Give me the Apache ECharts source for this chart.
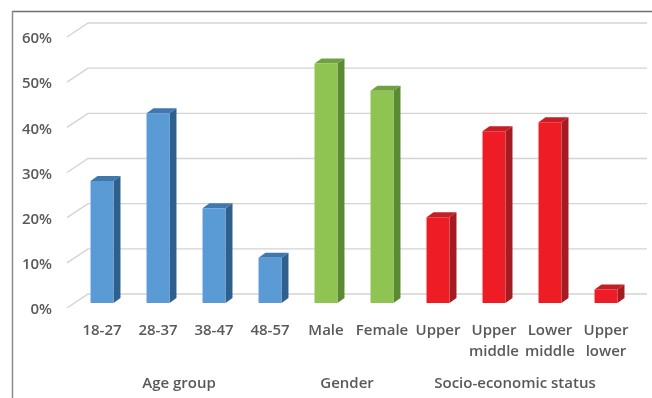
<!DOCTYPE html>
<html>
<head>
<meta charset="utf-8">
<style>
  html, body { margin: 0; padding: 0; background: #ffffff; }
  #chart { width: 652px; height: 398px; }
</style>
<script src="https://cdn.jsdelivr.net/npm/echarts@6/dist/echarts.min.js"></script>
</head>
<body>
<div id="chart"></div>
<script>
// Survey sample profile, in percent of respondents
const categories = ['18-27', '28-37', '38-47', '48-57', 'Male', 'Female',
  'Upper', 'Upper\nmiddle', 'Lower\nmiddle', 'Upper\nlower'];
const shares = [27, 42, 21, 10, 53, 47, 19, 38, 40, 3];
const groupOf = [0, 0, 0, 0, 1, 1, 2, 2, 2, 2];
const groupNames = ['Age group', 'Gender', 'Socio-economic status'];
const yTicks = [0, 10, 20, 30, 40, 50, 60];

// front / side / top shades for each group
const palettes = [
  { front: '#5b9bd5', side: '#2f5f8c', top: '#3f78ad' },
  { front: '#8fc352', side: '#5b8a35', top: '#70a03f' },
  { front: '#ee1c25', side: '#a51b21', top: '#c41f26' }
];

const TEXT = '#595959';
const FONT = '"Open Sans", "Noto Sans", sans-serif';
const DX = 7, DY = 5;        // bar depth offset
const WALL_DX = 21, WALL_DY = 14; // floor depth for gridlines

const chart = echarts.init(document.getElementById('chart'));

const option = {
  animation: false,
  backgroundColor: '#ffffff',
  grid: { left: 74, right: 18, top: 32, bottom: 95 },
  xAxis: {
    type: 'category',
    data: categories,
    axisLine: { show: false },
    axisTick: { show: false },
    axisLabel: {
      color: TEXT, fontFamily: FONT, fontSize: 15, fontWeight: 600,
      margin: 17, lineHeight: 21, interval: 0
    }
  },
  yAxis: {
    type: 'value',
    min: 0, max: 60, interval: 10,
    axisLine: { show: false },
    axisTick: { show: false },
    splitLine: { show: false },
    axisLabel: {
      formatter: '{value}%',
      color: TEXT, fontFamily: FONT, fontSize: 15, fontWeight: 600,
      margin: 22, verticalAlign: 'top', lineHeight: 14
    }
  },
  series: [
    {
      // gridlines on the back wall with a short diagonal to the front
      type: 'custom',
      silent: true,
      z: 1,
      data: yTicks.map(v => [0, v]),
      renderItem: function (params, api) {
        const cs = params.coordSys;
        const y = api.coord([0, api.value(1)])[1];
        const xl = cs.x - 7;
        const yl = y + 5;
        return {
          type: 'polyline',
          shape: { points: [[xl, yl], [xl + WALL_DX, yl - WALL_DY], [cs.x + cs.width + 13, yl - WALL_DY]] },
          style: { stroke: '#d4d4d4', lineWidth: 1.4, fill: null }
        };
      }
    },
    {
      type: 'custom',
      z: 2,
      data: shares.map((v, i) => [i, v]),
      renderItem: function (params, api) {
        const idx = api.value(0);
        const top = api.coord([idx, api.value(1)]);
        const base = api.coord([idx, 0]);
        const w = api.size([1, 0])[0] * 0.41;
        const x0 = top[0] - w / 2, x1 = top[0] + w / 2;
        const pal = palettes[groupOf[idx]];
        return {
          type: 'group',
          children: [
            {
              type: 'polygon',
              shape: { points: [[x1, top[1]], [x1 + DX, top[1] - DY], [x1 + DX, base[1] - DY], [x1, base[1]]] },
              style: { fill: pal.side }
            },
            {
              type: 'polygon',
              shape: { points: [[x0, top[1]], [x0 + DX, top[1] - DY], [x1 + DX, top[1] - DY], [x1, top[1]]] },
              style: { fill: pal.top }
            },
            {
              type: 'rect',
              shape: { x: x0, y: top[1], width: w, height: base[1] - top[1] },
              style: { fill: pal.front }
            }
          ]
        };
      }
    }
  ]
};

chart.setOption(option);

// group captions centred under their categories, plus the frame
const graphics = [
  { type: 'line', shape: { x1: 12, y1: 11.5, x2: 652, y2: 11.5 }, style: { stroke: '#6e6e6e', lineWidth: 1.5 } },
  { type: 'line', shape: { x1: 12.5, y1: 11, x2: 12.5, y2: 398 }, style: { stroke: '#8c8c8c', lineWidth: 1.5 } }
];
groupNames.forEach((name, g) => {
  const members = groupOf.map((gg, i) => gg === g ? i : -1).filter(i => i >= 0);
  const a = chart.convertToPixel({ xAxisIndex: 0 }, members[0]);
  const b = chart.convertToPixel({ xAxisIndex: 0 }, members[members.length - 1]);
  graphics.push({
    type: 'text',
    x: (a + b) / 2 - 7,
    y: 384,
    style: {
      text: name, fill: TEXT, font: '600 15px ' + FONT,
      align: 'center', verticalAlign: 'middle'
    }
  });
});
chart.setOption({ graphic: graphics });
</script>
</body>
</html>
